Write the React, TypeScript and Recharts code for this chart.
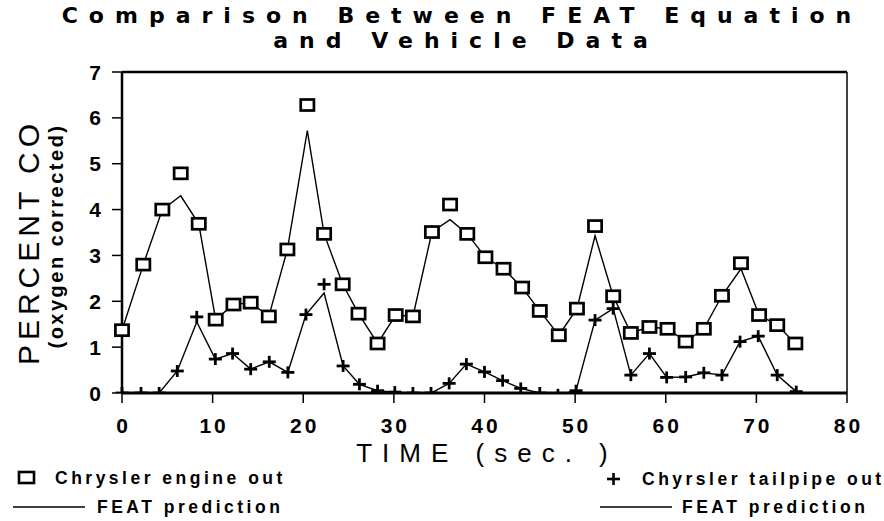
import React from "react";
import { ScatterChart, Scatter, XAxis, YAxis, ReferenceLine } from "recharts";

const engineX = [0, 2.35, 4.45, 6.48, 8.47, 10.34, 12.3, 14.2, 16.2, 18.25, 20.45, 22.3, 24.35, 26.1, 28.2, 30.2, 32.1, 34.2, 36.2, 38.1, 40.1, 42.1, 44.15, 46.1, 48.2, 50.2, 52.2, 54.2, 56.15, 58.2, 60.2, 62.2, 64.2, 66.2, 68.3, 70.3, 72.3, 74.3];
const engineOut = [1.37, 2.8, 4.0, 4.79, 3.69, 1.6, 1.93, 1.97, 1.67, 3.13, 6.28, 3.47, 2.37, 1.73, 1.08, 1.7, 1.67, 3.51, 4.11, 3.47, 2.96, 2.71, 2.3, 1.79, 1.26, 1.84, 3.64, 2.11, 1.31, 1.44, 1.4, 1.12, 1.4, 2.12, 2.83, 1.7, 1.48, 1.08];
const engineFeat = [1.37, 2.8, 4.0, 4.3, 3.69, 1.6, 1.93, 1.97, 1.67, 3.13, 5.72, 3.47, 2.37, 1.73, 1.08, 1.7, 1.67, 3.51, 3.78, 3.47, 2.96, 2.71, 2.3, 1.79, 1.26, 1.84, 3.43, 2.11, 1.31, 1.44, 1.4, 1.12, 1.4, 2.12, 2.71, 1.7, 1.48, 1.08];

const tailX = [0, 2.1, 4.1, 6.1, 8.25, 10.3, 12.2, 14.2, 16.25, 18.3, 20.3, 22.3, 24.4, 26.2, 28.2, 30.1, 32.1, 34.1, 36.1, 38.0, 40.0, 42.0, 44.0, 46.1, 48.1, 50.1, 52.2, 54.2, 56.15, 58.2, 60.1, 62.2, 64.2, 66.2, 68.2, 70.2, 72.3, 74.4];
const tailOut = [0, 0, 0, 0.48, 1.66, 0.74, 0.86, 0.52, 0.68, 0.45, 1.71, 2.37, 0.59, 0.19, 0.05, 0.02, 0, 0, 0.21, 0.63, 0.46, 0.27, 0.1, 0, -0.04, 0.05, 1.59, 1.84, 0.39, 0.86, 0.34, 0.35, 0.44, 0.39, 1.12, 1.24, 0.39, 0.03];
const tailFeat = [0, 0, 0, 0.48, 1.55, 0.74, 0.86, 0.52, 0.68, 0.45, 1.71, 2.18, 0.59, 0.19, 0.05, 0.02, 0, 0, 0.21, 0.63, 0.46, 0.27, 0.1, 0, -0.04, 0.05, 1.59, 1.84, 0.39, 0.86, 0.34, 0.35, 0.44, 0.39, 1.12, 1.24, 0.39, 0.03];

const xTicks = [0, 10, 20, 30, 40, 50, 60, 70, 80];
const yTicks = [0, 1, 2, 3, 4, 5, 6, 7];

const toPts = (xs: number[], ys: number[]) => xs.map((x, i) => ({ x, y: ys[i] }));
const engineOutData = toPts(engineX, engineOut);
const engineFeatData = toPts(engineX, engineFeat);
const tailOutData = toPts(tailX, tailOut);
const tailFeatData = toPts(tailX, tailFeat);

const FONT = "'Liberation Sans', Arial, sans-serif";
const WIDE = "'DejaVu Sans', 'Liberation Sans', sans-serif";

const Square = (p: any) => (
  <rect x={p.cx - 6.6} y={p.cy - 5.5} width={13.2} height={11} fill="#fff" stroke="#000" strokeWidth={2.7} />
);
const Plus = (p: any) => (
  <g stroke="#000" strokeWidth={2.8}>
    <line x1={p.cx - 6.5} y1={p.cy} x2={p.cx + 6.5} y2={p.cy} />
    <line x1={p.cx} y1={p.cy - 6} x2={p.cx} y2={p.cy + 6} />
  </g>
);
const NoShape = () => <g />;

const XTick = (p: any) => (
  <text x={p.x} y={p.y} dx={1.5} dy={28} textAnchor="middle" fontFamily={FONT} fontWeight="bold" fontSize={21} letterSpacing={3} fill="#000">
    {p.payload.value}
  </text>
);
const YTick = (p: any) => (
  <text x={p.x} y={p.y} dx={-9} dy={7.5} textAnchor="end" fontFamily={FONT} fontWeight="bold" fontSize={21} fill="#000">
    {p.payload.value}
  </text>
);

export default function App() {
  return (
    <div style={{ position: "absolute", left: 0, top: 0, width: 884, height: 521, background: "#fff" }}>
      <ScatterChart width={884} height={521} margin={{ top: 72, right: 37, left: 0, bottom: 0 }}>
        <XAxis
          type="number"
          dataKey="x"
          domain={[0, 80]}
          ticks={xTicks}
          height={128}
          axisLine={{ stroke: "#000", strokeWidth: 3 }}
          tickLine={{ stroke: "#000", strokeWidth: 1.5 }}
          tickSize={10}
          tick={<XTick />}
          interval={0}
        />
        <YAxis
          type="number"
          dataKey="y"
          domain={[0, 7]}
          allowDataOverflow
          ticks={yTicks}
          width={122}
          axisLine={{ stroke: "#000", strokeWidth: 2.5 }}
          tickLine={{ stroke: "#000", strokeWidth: 1.5 }}
          tickSize={10}
          tick={<YTick />}
          interval={0}
        />
        <ReferenceLine y={7} stroke="#000" strokeWidth={2.5} />
        <ReferenceLine x={80} stroke="#000" strokeWidth={1.5} />
        <Scatter data={engineFeatData} line={{ stroke: "#000", strokeWidth: 1.4 }} shape={<NoShape />} isAnimationActive={false} />
        <Scatter data={tailFeatData} line={{ stroke: "#000", strokeWidth: 1.4 }} shape={<NoShape />} isAnimationActive={false} />
        <Scatter data={tailOutData} shape={<Plus />} isAnimationActive={false} />
        <Scatter data={engineOutData} shape={<Square />} isAnimationActive={false} />
      </ScatterChart>
      <svg width={884} height={521} style={{ position: "absolute", left: 0, top: 0, pointerEvents: "none" }}>
        <g fontFamily={FONT} fill="#000">
          <text x={462} y={23} textAnchor="middle" fontFamily={WIDE} fontSize={22} fontWeight="bold" letterSpacing={11}>
            Comparison Between FEAT Equation
          </text>
          <text x={466} y={48} textAnchor="middle" fontFamily={WIDE} fontSize={22} fontWeight="bold" letterSpacing={11}>
            and Vehicle Data
          </text>
          <text transform="translate(39,242) rotate(-90)" textAnchor="middle" fontSize={30} letterSpacing={5}>
            PERCENT CO
          </text>
          <text transform="translate(63,236) rotate(-90)" textAnchor="middle" fontSize={20} fontWeight="bold" letterSpacing={2.5}>
            (oxygen corrected)
          </text>
          <text x={487} y={462} textAnchor="middle" fontSize={26} letterSpacing={10}>
            TIME (sec. )
          </text>
          <rect x={19} y={472} width={15} height={11} fill="#fff" stroke="#000" strokeWidth={2.6} />
          <text x={55} y={484} fontSize={17.5} fontWeight="bold" letterSpacing={3.5}>
            Chrysler engine out
          </text>
          <line x1={13} y1={507} x2={85} y2={507} stroke="#000" strokeWidth={1.6} />
          <text x={97} y={513} fontSize={17.5} fontWeight="bold" letterSpacing={3.5}>
            FEAT prediction
          </text>
          <g stroke="#000" strokeWidth={2.6}>
            <line x1={607} y1={479} x2={620} y2={479} />
            <line x1={613.5} y1={473} x2={613.5} y2={485} />
          </g>
          <text x={642} y={485} fontSize={17.5} fontWeight="bold" letterSpacing={3.5}>
            Chyrsler tailpipe out
          </text>
          <line x1={600} y1={507} x2={672} y2={507} stroke="#000" strokeWidth={1.6} />
          <text x={682} y={513} fontSize={17.5} fontWeight="bold" letterSpacing={3.5}>
            FEAT prediction
          </text>
        </g>
      </svg>
    </div>
  );
}
